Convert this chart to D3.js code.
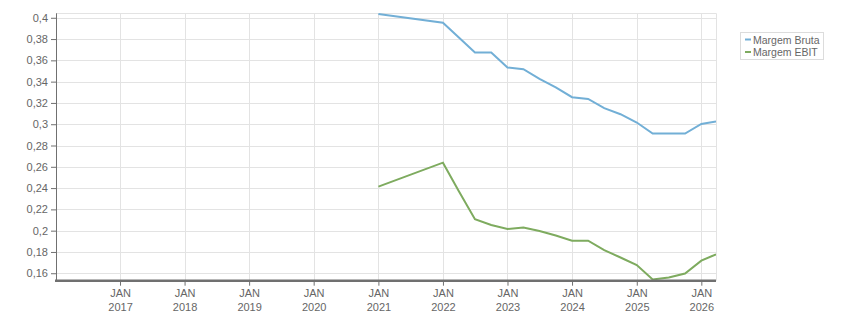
<!DOCTYPE html>
<html>
<head>
<meta charset="utf-8">
<script src="https://cdn.jsdelivr.net/npm/d3@7/dist/d3.min.js"></script>
<style>
  html, body { margin: 0; padding: 0; background: #fff; }
  svg { display: block; }
  text { font-family: "Liberation Sans", Arial, sans-serif; }
</style>
</head>
<body>
<svg id="chart" width="851" height="313"></svg>
<script>
// ---- data ----
const seriesNames = ["Margem Bruta", "Margem EBIT"];
const seriesColors = ["#72afd6", "#7eab5f"];
const dates = ["2021-01-01","2022-01-01","2022-04-01","2022-07-01","2022-10-01","2023-01-01","2023-04-01","2023-07-01","2023-10-01","2024-01-01","2024-04-01","2024-07-01","2024-10-01","2025-01-01","2025-04-01","2025-07-01","2025-10-01","2026-01-01","2026-03-25"];
const margemBruta = [0.4035,0.3953,0.3815,0.3674,0.3674,0.3533,0.3517,0.3426,0.3346,0.3254,0.3238,0.3151,0.3094,0.3016,0.2912,0.2912,0.2912,0.3003,0.3025];
const margemEbit  = [0.2414,0.2639,0.2371,0.2107,0.2053,0.2016,0.2030,0.1997,0.1955,0.1906,0.1906,0.1818,0.1748,0.1677,0.1541,0.1560,0.1597,0.1718,0.1778];
const xTickYears = [2017,2018,2019,2020,2021,2022,2023,2024,2025,2026];
const xTickMonth = "JAN";
const yTicks = [0.16,0.18,0.20,0.22,0.24,0.26,0.28,0.30,0.32,0.34,0.36,0.38,0.40];
const xDomain = ["2016-01-05","2026-03-25"];
const yDomain = [0.153, 0.4042];

// ---- layout ----
const svg = d3.select("#chart");
const L = 56, R = 716, T = 13.3, B = 280.7;
const parse = d3.utcParse("%Y-%m-%d");
const x = d3.scaleUtc().domain(xDomain.map(parse)).range([L, R]);
const y = d3.scaleLinear().domain(yDomain).range([B, T]);
const fmt = v => String(+v.toFixed(2)).replace(".", ",");
const axisColor = "#707070", gridColor = "#e3e3e3", textColor = "#666";

// grid
const g = svg.append("g");
g.selectAll("line.hg").data(yTicks).join("line")
  .attr("x1", L).attr("x2", R)
  .attr("y1", d => Math.round(y(d)) + 0.5).attr("y2", d => Math.round(y(d)) + 0.5)
  .attr("stroke", gridColor).attr("stroke-width", 1);
const tickDates = xTickYears.map(yy => new Date(Date.UTC(yy, 0, 1)));
g.selectAll("line.vg").data(tickDates).join("line")
  .attr("x1", d => Math.round(x(d)) + 0.5).attr("x2", d => Math.round(x(d)) + 0.5)
  .attr("y1", T).attr("y2", B)
  .attr("stroke", gridColor).attr("stroke-width", 1);
// top and right border
g.append("line").attr("x1", L).attr("x2", R).attr("y1", Math.round(T)+0.5).attr("y2", Math.round(T)+0.5).attr("stroke", gridColor);
g.append("line").attr("x1", R+0.5).attr("x2", R+0.5).attr("y1", T).attr("y2", B).attr("stroke", gridColor);

// clip
svg.append("clipPath").attr("id", "clip").append("rect")
  .attr("x", L).attr("y", T - 2).attr("width", R - L).attr("height", B - T + 2);

// lines
const seriesValues = [margemBruta, margemEbit];
const line = d3.line().x(d => x(d[0])).y(d => y(d[1]));
seriesValues.forEach((vals, i) => {
  const pts = dates.map((d, k) => [parse(d), vals[k]]);
  svg.append("path").datum(pts)
    .attr("clip-path", "url(#clip)")
    .attr("fill", "none")
    .attr("stroke", seriesColors[i])
    .attr("stroke-width", 2)
    .attr("d", line);
});

// y axis
const yAxis = d3.axisLeft(y).tickValues(yTicks).tickFormat(fmt).tickSize(5).tickPadding(3);
const ya = svg.append("g").attr("transform", `translate(${L},0)`).call(yAxis);
ya.select(".domain").attr("stroke", axisColor).attr("d", `M0.5,${T}V${B}`);
ya.selectAll(".tick line").attr("stroke", axisColor);
ya.selectAll(".tick text").attr("fill", textColor).style("font-size", "11px")
  .style("font-family", "'Liberation Sans', Arial, sans-serif");

// x axis
const xAxis = d3.axisBottom(x).tickValues(tickDates).tickFormat(() => "").tickSize(5).tickSizeOuter(0);
const xa = svg.append("g").attr("transform", `translate(0,${B})`).call(xAxis);
xa.select(".domain").attr("stroke", axisColor).attr("stroke-width", 2.5).attr("d", `M${L - 1},0H${R}`);
xa.selectAll(".tick line").attr("stroke", axisColor);
xa.selectAll(".tick").each(function(d, i) {
  const t = d3.select(this).append("text").attr("fill", textColor)
    .attr("text-anchor", "middle").style("font-size", "11px")
    .style("font-family", "'Liberation Sans', Arial, sans-serif");
  t.append("tspan").attr("x", 0).attr("y", 16).text(xTickMonth);
  t.append("tspan").attr("x", 0).attr("y", 30).text(xTickYears[i]);
});

// legend
const lg = svg.append("g");
lg.append("rect").attr("x", 740.5).attr("y", 32.5).attr("width", 83).attr("height", 27)
  .attr("fill", "#fff").attr("stroke", "#dcdcdc");
seriesNames.forEach((name, i) => {
  const yy = 39.5 + i * 12.5;
  lg.append("line").attr("x1", 745).attr("x2", 751).attr("y1", yy).attr("y2", yy)
    .attr("stroke", seriesColors[i]).attr("stroke-width", 2);
  lg.append("text").attr("x", 753).attr("y", yy + 4).attr("fill", textColor)
    .style("font-size", "10.5px").text(name);
});
</script>
</body>
</html>
